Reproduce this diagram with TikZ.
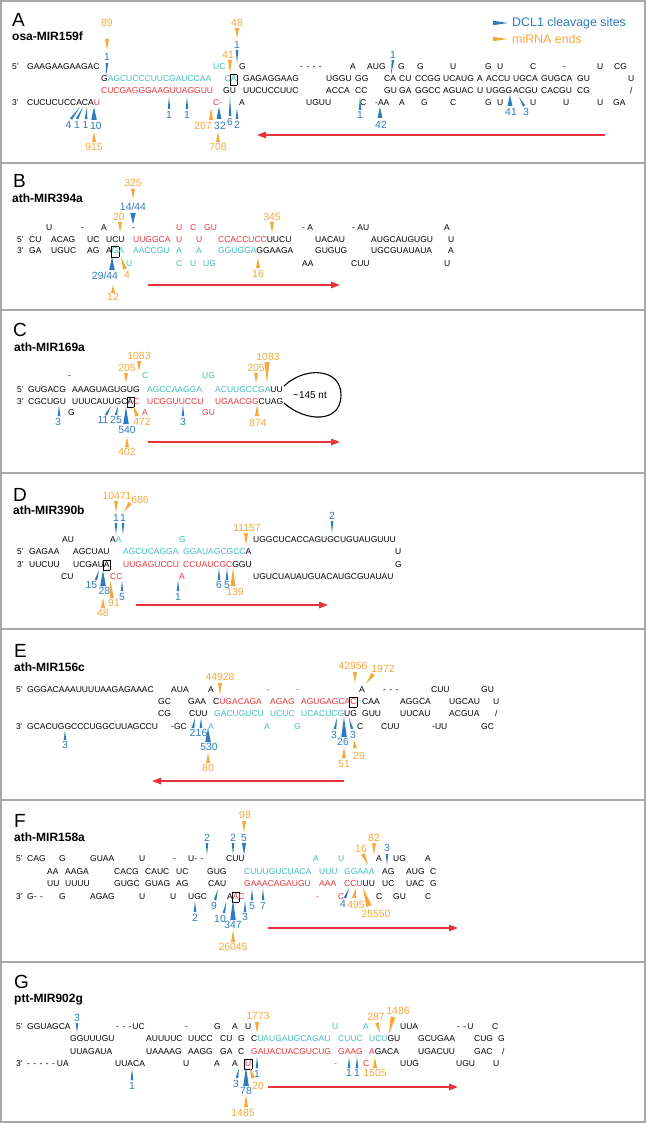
\documentclass[tikz,border=0pt]{standalone}
\usepackage{fontspec}
\setmainfont{Liberation Sans}
\usetikzlibrary{calc,arrows.meta}

\definecolor{dcl}{HTML}{2F7BBF}
\definecolor{mend}{HTML}{F4A93A}
\definecolor{mircy}{HTML}{3DBDBD}
\definecolor{mirrd}{HTML}{E8333A}
\definecolor{frm}{HTML}{A8A8A8}

\newcounter{nd}
\newcommand\cyt[1]{\textcolor{mircy}{#1}}
\newcommand\rdt[1]{\textcolor{mirrd}{#1}}
\newcommand\dg{\hspace{3.4pt}}
\newcommand\boxnt[1]{{\setlength\fboxsep{0.4pt}\setlength\fboxrule{0.5pt}\kern-0.9pt\fbox{\rule[-2.6pt]{0pt}{9.2pt}#1}\kern-0.9pt}}
\newcommand\seqat[3]{\stepcounter{nd}\node[seq] (s\arabic{nd}) at (#1,#2) {#3};}
\newcommand\numat[4]{\stepcounter{nd}\node[lab,text=#1] (n\arabic{nd}) at (#2,#3) {#4};}
\newcommand\cutmk[4][1.3]{\fill[#2] (#3) -- ($(#4)!#1pt!90:(#3)$) -- ($(#4)!#1pt!-90:(#3)$) -- cycle;}

\tikzset{
  seq/.style={anchor=base west, inner sep=0pt, font=\fontsize{8.5}{10}\selectfont},
  lab/.style={inner sep=0pt, font=\fontsize{10.4}{12}\selectfont},
  panel/.style={anchor=base west, inner sep=0pt, font=\fontsize{19}{21}\selectfont},
  mirname/.style={anchor=base west, inner sep=0pt, font=\fontsize{12}{14}\selectfont\bfseries},
  legend/.style={anchor=west, inner sep=0pt, font=\fontsize{12.4}{14}\selectfont},
  frame/.style={draw=frm, line width=1.2pt},
  dirarrow/.style={draw=mirrd, line width=1.3pt, -{Triangle[length=9pt,width=6.5pt]}},
}

\begin{document}
\begin{tikzpicture}[x=1pt,y=-1pt]
\useasboundingbox (0,0) rectangle (646,1123);
\draw[frame] (1,1) rectangle (645,1122);
\foreach \yy in {163,310,473,629,800,962}
  \draw[frame] (1,\yy) -- (645,\yy);

% A
\node[panel] (pa) at (12,27) {A};
\node[mirname] (ma) at (12,41) {osa-MIR159f};
\cutmk[2.2]{dcl}{508,23}{493,23}
\node[legend, text=dcl] (lg1) at (512,23) {DCL1 cleavage sites};
\cutmk[2.2]{mend}{508,39}{493,39}
\node[legend, text=mend] (lg2) at (512,39) {miRNA ends};
\seqat{12}{70}{5'} \seqat{27}{70}{GAAGAAGAAGAC} \seqat{213}{70}{\cyt{UC}} \seqat{239}{70}{G}
\seqat{300}{70}{-\dg-\dg-\dg-} \seqat{350}{70}{A} \seqat{367}{70}{AUG} \seqat{398}{70}{G}
\seqat{417}{70}{G} \seqat{450}{70}{U} \seqat{485}{70}{G} \seqat{497}{70}{U} \seqat{530}{70}{C}
\seqat{563}{70}{-} \seqat{597}{70}{U} \seqat{614}{70}{CG}
\seqat{101}{82}{G\cyt{AGCUCCCUUCGAUCCAA}} \seqat{224.5}{82}{\cyt{C}\boxnt{\cyt{A}}} \seqat{243}{82}{GAGAGGAAG}
\seqat{326}{82}{UGGU} \seqat{355}{82}{GG} \seqat{384}{82}{CA} \seqat{399}{82}{CU} \seqat{415}{82}{CCGG}
\seqat{443}{82}{UCAUG} \seqat{477}{82}{A} \seqat{486}{82}{ACCU} \seqat{513}{82}{UGCA}
\seqat{541}{82}{GUGCA} \seqat{577}{82}{GU} \seqat{628}{82}{U}
\seqat{101}{94}{\rdt{CUCGAGGGAAGUUAGGUU}} \seqat{223}{94}{GU} \seqat{243}{94}{UUCUCCUUC}
\seqat{326}{94}{ACCA} \seqat{355}{94}{CC} \seqat{384}{94}{GU} \seqat{399}{94}{GA} \seqat{415}{94}{GGCC}
\seqat{443}{94}{AGUAC} \seqat{477}{94}{U} \seqat{486}{94}{UGGG} \seqat{513}{94}{ACGU}
\seqat{541}{94}{CACGU} \seqat{577}{94}{CG} \seqat{630}{94}{/}
\seqat{12}{106}{3'} \seqat{27}{106}{CUCUCUCCACA\rdt{U}} \seqat{213}{106}{\rdt{C-}} \seqat{239}{106}{A}
\seqat{306}{106}{UGUU} \seqat{360}{106}{C} \seqat{375}{106}{-AA} \seqat{399}{106}{A} \seqat{421}{106}{G}
\seqat{450}{106}{C} \seqat{485}{106}{G} \seqat{497}{106}{U} \seqat{530}{106}{U} \seqat{563}{106}{U}
\seqat{597}{106}{U} \seqat{613}{106}{GA}
\numat{mend}{107}{23}{89} \cutmk[2]{mend}{107,50}{107,39}
\numat{dcl}{107}{57}{1} \cutmk{dcl}{106,76}{107,63}
\numat{mend}{237}{23}{48} \cutmk[2]{mend}{237,38}{237,28}
\numat{dcl}{237}{45}{1} \cutmk{dcl}{237,64}{237,50}
\numat{mend}{228}{55}{41} \cutmk[2]{mend}{230,73}{230,60}
\numat{dcl}{393}{55}{1} \cutmk{dcl}{391,75}{393,60}
\numat{dcl}{68.5}{125}{4} \cutmk{dcl}{80,107}{71,119}
\numat{dcl}{77}{125}{1} \cutmk{dcl}{83,107}{77,119}
\numat{dcl}{85.5}{125}{1} \cutmk{dcl}{87,107}{86,119}
\numat{dcl}{96}{126}{10} \cutmk[2.8]{dcl}{94,107}{94,120}
\numat{mend}{94}{147}{915} \cutmk[2]{mend}{94,132}{94,142}
\numat{dcl}{169}{115}{1} \cutmk{dcl}{169,97}{169,109}
\numat{dcl}{187}{115}{1} \cutmk{dcl}{187,97}{187,109}
\numat{mend}{203}{126}{207} \cutmk[2]{mend}{211,108}{211,120}
\numat{dcl}{220}{126}{32} \cutmk[2.5]{dcl}{219,107}{219,119}
\numat{mend}{218}{147}{708} \cutmk[2]{mend}{218,132}{218,142}
\numat{dcl}{230}{122}{6} \cutmk{dcl}{230,97}{230,116}
\numat{dcl}{237}{125}{2} \cutmk{dcl}{237,108}{237,119}
\numat{dcl}{360}{115}{1} \cutmk{dcl}{360,97}{360,110}
\numat{dcl}{381}{125}{42} \cutmk[2.5]{dcl}{380,107}{380,118}
\numat{dcl}{511}{112}{41} \cutmk[2.5]{dcl}{510,95}{510,106}
\numat{dcl}{526}{112}{3} \cutmk{dcl}{519,97}{524,106}
\coordinate (ra1) at (605,135); \coordinate (ra2) at (257,135);
\draw[dirarrow] (ra1) -- (ra2);

% B
\node[panel] (pb) at (13,188) {B};
\node[mirname] (mb) at (12,203) {ath-MIR394a};
\seqat{46}{230}{U} \seqat{81}{230}{-} \seqat{101}{230}{A} \seqat{132}{230}{-} \seqat{176}{230}{\rdt{U}}
\seqat{190}{230}{\rdt{C}} \seqat{204}{230}{\rdt{GU}} \seqat{302}{230}{- A} \seqat{352}{230}{- AU} \seqat{444}{230}{A}
\seqat{17}{242}{5'} \seqat{29}{242}{CU} \seqat{51}{242}{ACAG} \seqat{87}{242}{UC} \seqat{106}{242}{UCU}
\seqat{133}{242}{\rdt{UUGGCA}} \seqat{176}{242}{\rdt{U}} \seqat{196}{242}{\rdt{U}}
\seqat{218}{242}{\rdt{CCACCUCC}UUCU} \seqat{315}{242}{UACAU} \seqat{371}{242}{AUGCAUGUGU} \seqat{448}{242}{U}
\seqat{17}{254}{3'} \seqat{29}{254}{GA} \seqat{51}{254}{UGUC} \seqat{87}{254}{AG}
\seqat{106}{254}{A\boxnt{\cyt{G}}\cyt{A}} \seqat{133}{254}{\cyt{AACCGU}} \seqat{176}{254}{\cyt{A}}
\seqat{196}{254}{\cyt{A}} \seqat{218}{254}{\cyt{GGUGGA}GGAAGA} \seqat{315}{254}{GUGUG}
\seqat{371}{254}{UGCGUAUAUA} \seqat{448}{254}{A}
\seqat{126}{266}{\cyt{U}} \seqat{176}{266}{\cyt{C}} \seqat{190}{266}{\cyt{U}} \seqat{203}{266}{\cyt{UG}}
\seqat{302}{266}{AA} \seqat{351}{266}{CUU} \seqat{444}{266}{U}
\numat{mend}{133}{183}{325} \cutmk[2]{mend}{133,199}{133,189}
\numat{dcl}{133}{207}{14/44} \cutmk[2.8]{dcl}{133,224}{133,213}
\numat{mend}{119}{217}{20} \cutmk[2]{mend}{120,232}{120,222}
\numat{mend}{272}{217}{345} \cutmk[2]{mend}{272,233}{272,222}
\numat{dcl}{105}{276}{29/44} \cutmk[2.8]{dcl}{112,257}{112,270}
\numat{mend}{127}{275}{4} \cutmk[2]{mend}{121,257}{125,269}
\numat{mend}{113}{297}{12} \cutmk[2]{mend}{113,285}{113,293}
\numat{mend}{258}{274}{16} \cutmk[2]{mend}{258,258}{258,268}
\coordinate (rb1) at (148,285); \coordinate (rb2) at (340,285);
\draw[dirarrow] (rb1) -- (rb2);

% C
\node[panel] (pc) at (13,336) {C};
\node[mirname] (mc) at (14,351) {ath-MIR169a};
\seqat{68}{378}{-} \seqat{142}{378}{\cyt{C}} \seqat{202}{378}{\cyt{UG}}
\seqat{17}{392}{5'} \seqat{28}{392}{GUGACG} \seqat{72}{392}{AAAGUAGUGUG}
\seqat{147}{392}{\cyt{AGCCAAGGA}} \seqat{215}{392}{\cyt{ACUUGCCGA}UU}
\seqat{17}{404}{3'} \seqat{28}{404}{CGCUGU} \seqat{72}{404}{UUUCAUUGC\boxnt{A}\rdt{C}}
\seqat{147}{404}{\rdt{UCGGUUCCU}} \seqat{215}{404}{\rdt{UGAACGG}CUAG}
\seqat{68}{415}{G} \seqat{142}{415}{\rdt{A}} \seqat{202}{415}{\rdt{GU}}
\draw[line width=1.1pt] (284,386) .. controls (305,366) and (341,368) .. (341,395)
  .. controls (341,424) and (305,422) .. (284,403);
\node[anchor=west, inner sep=0pt, font=\fontsize{10}{12}\selectfont] (lp) at (293,395) {\textasciitilde145 nt};
\numat{mend}{139}{356}{1083} \cutmk[2]{mend}{139,371}{139,361}
\numat{mend}{127}{368}{205} \cutmk[2]{mend}{126,383}{126,373}
\numat{mend}{268}{357}{1083} \cutmk[2.5]{mend}{267,383}{267,362}
\numat{mend}{256}{368}{205} \cutmk[2]{mend}{256,383}{256,373}
\numat{dcl}{58}{422}{3} \cutmk{dcl}{59,405}{59,416}
\numat{dcl}{103}{420}{11} \cutmk{dcl}{111,406}{106,415}
\numat{dcl}{116}{420}{25} \cutmk{dcl}{118,406}{116,415}
\numat{dcl}{127}{430}{540} \cutmk[2.8]{dcl}{126,407}{126,424}
\numat{mend}{142}{422}{472} \cutmk[2]{mend}{133,405}{137,416}
\numat{dcl}{183}{422}{3} \cutmk{dcl}{183,405}{183,416}
\numat{mend}{258}{423}{874} \cutmk[2]{mend}{257,405}{257,416}
\numat{mend}{127}{452}{402} \cutmk[2]{mend}{127,437}{127,447}
\coordinate (rc1) at (148,442); \coordinate (rc2) at (340,442);
\draw[dirarrow] (rc1) -- (rc2);

% D
\node[panel] (pd) at (13,501) {D};
\node[mirname] (md) at (13,514) {ath-MIR390b};
\seqat{62}{542}{AU} \seqat{110}{542}{A\cyt{A}} \seqat{179}{542}{\cyt{G}} \seqat{253}{542}{UGGCUCACCAGUGCUGUAUGUUU}
\seqat{17}{554}{5'} \seqat{29}{554}{GAGAA} \seqat{73}{554}{AGCUAU} \seqat{123}{554}{\cyt{AGCUCAGGA}}
\seqat{183}{554}{\cyt{GGAUAGCGCC}A} \seqat{395}{554}{U}
\seqat{17}{567}{3'} \seqat{29}{567}{UUCUU} \seqat{73}{567}{UCGAU\boxnt{A}} \seqat{123}{567}{\rdt{UUGAGUCCU}}
\seqat{183}{567}{\rdt{CCUAUCGC}GGU} \seqat{395}{567}{G}
\seqat{61}{579}{CU} \seqat{110}{579}{\rdt{CC}} \seqat{179}{579}{\rdt{A}} \seqat{253}{579}{UGUCUAUAUGUACAUGCGUAUAU}
\numat{mend}{117}{496}{10471} \cutmk[2]{mend}{116,512}{116,501}
\numat{mend}{140}{500}{686} \cutmk[2]{mend}{124,512}{130,503}
\numat{dcl}{116}{518}{1} \cutmk{dcl}{116,535}{116,523}
\numat{dcl}{123}{518}{1} \cutmk{dcl}{123,535}{123,523}
\numat{mend}{247}{528}{11157} \cutmk[2]{mend}{246,545}{246,533}
\numat{dcl}{332}{516}{2} \cutmk{dcl}{332,533}{332,521}
\numat{dcl}{91.5}{585}{15} \cutmk{dcl}{99,570}{96,580}
\numat{dcl}{104.5}{591}{28} \cutmk[2.8]{dcl}{103,570}{103,586}
\numat{mend}{114}{603}{91} \cutmk[2]{mend}{110,580}{112,598}
\numat{dcl}{122}{597}{5} \cutmk{dcl}{122,581}{122,591}
\numat{mend}{103}{613}{48} \cutmk[2]{mend}{103,598}{103,608}
\numat{dcl}{178}{597}{1} \cutmk{dcl}{178,580}{178,591}
\numat{dcl}{219}{585}{6} \cutmk{dcl}{219,568}{219,580}
\numat{dcl}{227}{585}{5} \cutmk{dcl}{227,568}{227,580}
\numat{mend}{235}{592}{139} \cutmk[2.5]{mend}{233,568}{233,586}
\coordinate (rd1) at (136,605); \coordinate (rd2) at (328,605);
\draw[dirarrow] (rd1) -- (rd2);

% E
\node[panel] (pe) at (14,657) {E};
\node[mirname] (me) at (14,671) {ath-MIR156c};
\seqat{16}{692}{5'} \seqat{27}{692}{GGGACAAAUUUUAAGAGAAAC} \seqat{171}{692}{AUA} \seqat{208}{692}{A}
\seqat{267}{692}{\rdt{-}} \seqat{296}{692}{\rdt{-}} \seqat{359}{692}{A} \seqat{383}{692}{-\dg-\dg-}
\seqat{431}{692}{CUU} \seqat{481}{692}{GU}
\seqat{158}{704}{GC} \seqat{188}{704}{GAA} \seqat{213}{704}{C\rdt{UGACAGA}} \seqat{270}{704}{\rdt{AGAG}}
\seqat{301}{704}{\rdt{AGUGAGCA}\boxnt{\rdt{C}}} \seqat{362}{704}{CAA} \seqat{400}{704}{AGGCA}
\seqat{449}{704}{UGCAU} \seqat{493}{704}{U}
\seqat{158}{716}{CG} \seqat{189}{716}{CUU} \seqat{214}{716}{\cyt{GACUGUCU}} \seqat{270}{716}{\cyt{UCUC}}
\seqat{301}{716}{\cyt{UCACUCG}UG} \seqat{362}{716}{GUU} \seqat{400}{716}{UUCAU} \seqat{449}{716}{ACGUA}
\seqat{495}{716}{/}
\seqat{16}{729}{3'} \seqat{27}{729}{GCACUGGCCCUGGCUUAGCCU} \seqat{171}{729}{-GC} \seqat{208}{729}{\cyt{A}}
\seqat{264}{729}{\cyt{A}} \seqat{294}{729}{\cyt{G}} \seqat{357}{729}{C} \seqat{381}{729}{CUU}
\seqat{432}{729}{-UU} \seqat{481}{729}{GC}
\numat{mend}{220}{677}{44928} \cutmk[2]{mend}{220,695}{220,683}
\numat{mend}{353}{666}{42956} \cutmk[2]{mend}{355,683}{355,672}
\numat{mend}{383}{669}{1972} \cutmk[2]{mend}{366,684}{373,674}
\numat{dcl}{65}{745}{3} \cutmk{dcl}{65,730}{65,740}
\numat{dcl}{192.5}{733}{2} \cutmk{dcl}{195,718}{193,728}
\numat{dcl}{201.5}{733}{16} \cutmk{dcl}{201,718}{201,728}
\numat{dcl}{209}{747}{530} \cutmk[2.8]{dcl}{208,728}{208,742}
\numat{mend}{208}{768}{80} \cutmk[2]{mend}{208,753}{208,763}
\numat{dcl}{334}{735}{3} \cutmk{dcl}{337,718}{335,729}
\numat{dcl}{343}{742}{26} \cutmk[2.8]{dcl}{344,717}{344,737}
\numat{dcl}{353}{735}{3} \cutmk{dcl}{349,718}{352,729}
\numat{mend}{359}{756}{29} \cutmk[2]{mend}{354,740}{355,748}
\numat{mend}{344}{764}{51} \cutmk[2]{mend}{344,747}{344,758}
\coordinate (re1) at (344,781); \coordinate (re2) at (152,781);
\draw[dirarrow] (re1) -- (re2);

% F
\node[panel] (pf) at (14,827) {F};
\node[mirname] (mf) at (14,841) {ath-MIR158a};
\seqat{16}{861}{5'} \seqat{27}{861}{CAG} \seqat{59}{861}{G} \seqat{90}{861}{GUAA} \seqat{139}{861}{U}
\seqat{173}{861}{-} \seqat{188}{861}{U-\dg-} \seqat{226}{861}{CUU} \seqat{313}{861}{\cyt{A}}
\seqat{338}{861}{\cyt{U}} \seqat{376}{861}{A} \seqat{393}{861}{UG} \seqat{425}{861}{A}
\seqat{47}{874}{AA} \seqat{65}{874}{AAGA} \seqat{114}{874}{CACG} \seqat{145}{874}{CAUC} \seqat{176}{874}{UC}
\seqat{207}{874}{GUG} \seqat{244}{874}{\cyt{CUUUGUCUACA}} \seqat{319}{874}{\cyt{UUU}} \seqat{344}{874}{\cyt{GGAAA}}
\seqat{382}{874}{AG} \seqat{406}{874}{AUG} \seqat{430}{874}{C}
\seqat{47}{886}{UU} \seqat{65}{886}{UUUU} \seqat{114}{886}{GUGC} \seqat{145}{886}{GUAG} \seqat{176}{886}{AG}
\seqat{208}{886}{CAU} \seqat{244}{886}{\rdt{GAAACAGAUGU}} \seqat{319}{886}{\rdt{AAA}} \seqat{344}{886}{\rdt{CCU}UU}
\seqat{382}{886}{UC} \seqat{406}{886}{UAC} \seqat{430}{886}{G}
\seqat{16}{899}{3'} \seqat{27}{899}{G-\dg-} \seqat{59}{899}{G} \seqat{90}{899}{AGAG} \seqat{139}{899}{U}
\seqat{170}{899}{U} \seqat{188}{899}{UGC} \seqat{227}{899}{A\boxnt{\rdt{A}}\rdt{C}} \seqat{316}{899}{\rdt{-}}
\seqat{338}{899}{\rdt{C}} \seqat{376}{899}{C} \seqat{393}{899}{GU} \seqat{425}{899}{C}
\numat{mend}{245}{815}{98} \cutmk[2]{mend}{244,832}{244,821}
\numat{dcl}{207}{838}{2} \cutmk{dcl}{207,855}{207,843}
\numat{dcl}{233}{838}{2} \cutmk{dcl}{233,855}{233,843}
\numat{dcl}{244}{838}{5} \cutmk[2]{dcl}{244,855}{244,843}
\numat{mend}{361}{849}{16} \cutmk[2]{mend}{368,865}{363,854}
\numat{mend}{374}{838}{82} \cutmk[2]{mend}{374,855}{374,843}
\numat{dcl}{387}{848}{3} \cutmk{dcl}{387,865}{387,854}
\numat{dcl}{214}{906}{9} \cutmk{dcl}{218,889}{215,900}
\numat{dcl}{220}{919}{10} \cutmk{dcl}{226,902}{224,913}
\numat{dcl}{233}{925}{347} \cutmk[2.8]{dcl}{233,900}{233,920}
\numat{dcl}{245}{917}{3} \cutmk{dcl}{245,901}{245,912}
\numat{dcl}{252}{906}{5} \cutmk{dcl}{252,889}{252,900}
\numat{dcl}{263}{906}{7} \cutmk{dcl}{263,889}{263,900}
\numat{dcl}{195}{918}{2} \cutmk{dcl}{195,901}{195,912}
\numat{mend}{233}{947}{26045} \cutmk[2]{mend}{233,930}{233,942}
\numat{dcl}{343}{904}{4} \cutmk{dcl}{349,888}{345,898}
\numat{mend}{356}{905}{495} \cutmk[2]{mend}{356,888}{354,898}
\numat{mend}{376}{914}{25550} \cutmk[2.8]{mend}{363,888}{369,906}
\coordinate (rf1) at (268,928); \coordinate (rf2) at (458,928);
\draw[dirarrow] (rf1) -- (rf2);

% G
\node[panel] (pg) at (14,988) {G};
\node[mirname] (mg) at (14,1002) {ptt-MIR902g};
\seqat{16}{1029}{5'} \seqat{27}{1029}{GGUAGCA} \seqat{116}{1029}{-\dg-\dg-\hspace{1pt}UC} \seqat{185}{1029}{-}
\seqat{214}{1029}{G} \seqat{232}{1029}{A} \seqat{245}{1029}{U} \seqat{332}{1029}{\cyt{U}} \seqat{363}{1029}{\cyt{A}}
\seqat{400}{1029}{UUA} \seqat{457}{1029}{-\dg-\hspace{1pt}U} \seqat{492}{1029}{C}
\seqat{70}{1041}{GGUUUGU} \seqat{146}{1041}{AUUUUC} \seqat{188}{1041}{UUCC} \seqat{220}{1041}{CU}
\seqat{238}{1041}{G} \seqat{251}{1041}{C\cyt{UAUGAUGCAGAU}} \seqat{338}{1041}{\cyt{CUUC}} \seqat{369}{1041}{\cyt{UCU}GU}
\seqat{418}{1041}{GCUGAA} \seqat{474}{1041}{CUG} \seqat{498}{1041}{G}
\seqat{70}{1054}{UUAGAUA} \seqat{146}{1054}{UAAAAG} \seqat{188}{1054}{AAGG} \seqat{220}{1054}{GA}
\seqat{238}{1054}{C} \seqat{251}{1054}{\rdt{GAUACUACGUCUG}} \seqat{338}{1054}{\rdt{GAAG}} \seqat{369}{1054}{\rdt{A}GACA}
\seqat{418}{1054}{UGACUU} \seqat{474}{1054}{GAC} \seqat{502}{1054}{/}
\seqat{16}{1066}{3'} \seqat{27}{1066}{-\dg-\dg-\dg-\dg-\hspace{2pt}UA} \seqat{115}{1066}{UUACA} \seqat{183}{1066}{U}
\seqat{214}{1066}{A} \seqat{232}{1066}{A} \seqat{245}{1066}{\boxnt{\rdt{U}}} \seqat{334}{1066}{\rdt{-}}
\seqat{363}{1066}{\rdt{C}} \seqat{400}{1066}{UUG} \seqat{456}{1066}{UGU} \seqat{493}{1066}{U}
\numat{dcl}{77}{1018}{3} \cutmk{dcl}{77,1033}{77,1023}
\numat{mend}{258}{1016}{1773} \cutmk[2]{mend}{257,1033}{257,1022}
\numat{mend}{376}{1017}{287} \cutmk[2]{mend}{380,1033}{377,1023}
\numat{mend}{398}{1011}{1486} \cutmk[2.5]{mend}{389,1034}{393,1017}
\numat{dcl}{132}{1086}{1} \cutmk{dcl}{132,1068}{132,1080}
\numat{dcl}{236}{1084}{3} \cutmk{dcl}{239,1068}{237,1078}
\numat{dcl}{246}{1091}{78} \cutmk[2.8]{dcl}{246,1067}{246,1086}
\numat{mend}{258}{1086}{20} \cutmk[2]{mend}{250,1068}{253,1078}
\numat{dcl}{257}{1074}{1} \cutmk{dcl}{257,1057}{257,1068}
\numat{mend}{243}{1113}{1485} \cutmk[2]{mend}{246,1095}{246,1107}
\numat{dcl}{349}{1073}{1} \cutmk{dcl}{349,1057}{349,1068}
\numat{dcl}{357}{1073}{1} \cutmk{dcl}{357,1057}{357,1068}
\numat{mend}{375}{1073}{1505} \cutmk[2]{mend}{375,1057}{375,1068}
\coordinate (rg1) at (268,1087); \coordinate (rg2) at (458,1087);
\draw[dirarrow] (rg1) -- (rg2);
\end{tikzpicture}
\end{document}
